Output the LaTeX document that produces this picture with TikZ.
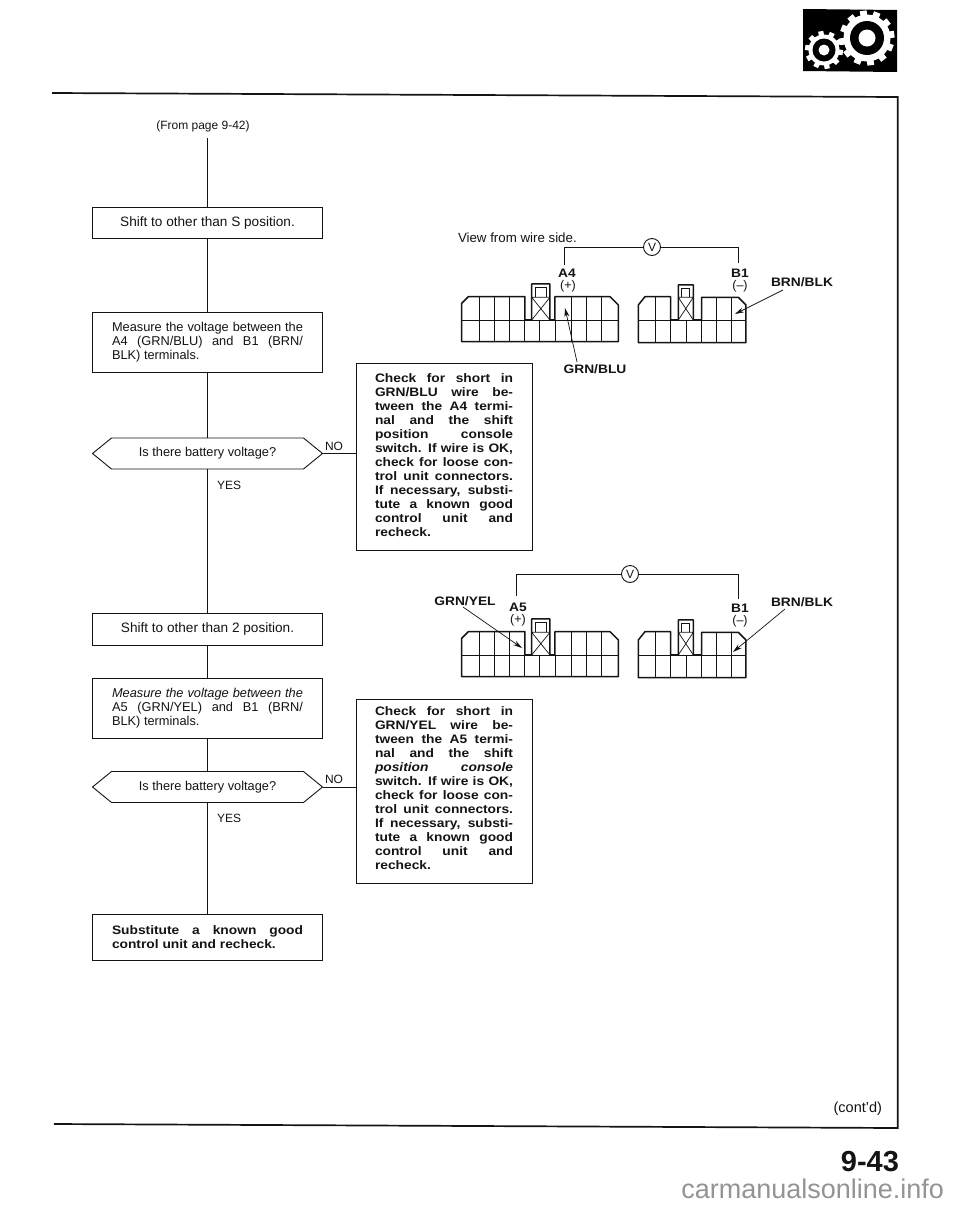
\documentclass[tikz,border=0pt]{standalone}
\usepackage{fontspec}
\setmainfont{Liberation Sans}
\newfontfamily\widefam{Liberation Sans}[FakeStretch=1.12]
\usetikzlibrary{arrows.meta}
\definecolor{ink}{HTML}{141414}
\newcommand{\jl}[1]{\hbox to \hsize{#1}}
\tikzset{
  x=1pt,y=-1pt,
  every node/.style={inner sep=0pt,outer sep=0pt,text=ink},
  plainbox/.style={draw=ink,line width=.9pt,minimum width=230pt,anchor=center},
  thinfont/.style={font=\fontsize{13.6}{14.2}\selectfont},
  boldfont/.style={font=\widefam\bfseries\fontsize{12.3}{14}\selectfont},
  hexbox/.style={minimum width=230pt,minimum height=31pt,font=\fontsize{12.8}{14}\selectfont},
  hexline/.style={draw=ink,line width=.9pt,line join=round},
  checkbox/.style={draw=ink,line width=.9pt,minimum width=176pt},
  flow/.style={draw=ink,line width=.8pt},
  small/.style={font=\fontsize{12}{14}\selectfont},
  lab/.style={font=\widefam\bfseries\fontsize{12.3}{14}\selectfont},
  polar/.style={font=\fontsize{12.5}{12}\selectfont},
  meter/.style={circle,draw=ink,line width=.9pt,minimum size=17pt,font=\fontsize{12}{12}\selectfont},
  pointer/.style={draw=ink,line width=.7pt,-{Stealth[length=9pt,width=5pt]}},
  outline/.style={draw=ink,line width=1.5pt,line join=round},
  cell/.style={draw=ink,line width=.7pt},
  frameline/.style={draw=ink,line width=1.7pt,line join=miter},
}
\newcommand{\leftconn}[1]{%
  \begin{scope}[xshift=440pt,yshift=-#1pt,x=.3333pt,y=-.3333pt]
    \foreach \v in {117,162,208,395,440,484} \draw[cell] (\v,320) -- (\v,390);
    \foreach \v in {117,162,208,253,298,347,395,440,484} \draw[cell] (\v,390) -- (\v,455);
    \draw[cell] (65,390) -- (535,390);
    \draw[cell] (275,322) -- (330,322) (275,322) -- (330,390) (330,322) -- (275,390);
    \draw[cell,line width=1pt] (287,322) -- (287,293) -- (320,293) -- (320,322);
    \draw[outline] (65,455) -- (65,340) -- (85,320) -- (255,320) -- (255,390) -- (275,390) -- (275,282) -- (330,282) -- (330,390) -- (345,390) -- (345,320) -- (510,320) -- (535,345) -- (535,455) -- cycle;
  \end{scope}}
\newcommand{\rightconn}[1]{%
  \begin{scope}[xshift=440pt,yshift=-#1pt,x=.3333pt,y=-.3333pt]
    \foreach \v in {645,830,875} \draw[cell] (\v,320) -- (\v,392);
    \foreach \v in {645,692,738,785,830,875} \draw[cell] (\v,392) -- (\v,458);
    \draw[cell] (595,392) -- (918,392);
    \draw[cell] (715,322) -- (760,322) (715,322) -- (760,390) (760,322) -- (715,390);
    \draw[cell,line width=1pt] (726,322) -- (726,296) -- (750,296) -- (750,322);
    \draw[outline] (595,458) -- (595,345) -- (615,320) -- (692,320) -- (692,390) -- (715,390) -- (715,285) -- (760,285) -- (760,390) -- (785,390) -- (785,322) -- (895,322) -- (918,345) -- (918,458) -- cycle;
  \end{scope}}
\begin{document}
\begin{tikzpicture}
\useasboundingbox (0,0) rectangle (960,1205);
\fill[white] (0,0) rectangle (960,1205);

% gear emblem
\fill[black] (803,9) -- (897,10) -- (897,72) -- (803,71) -- cycle;
\foreach \a in {0,30,...,150} \fill[white,shift={(867,38)},rotate=\a+8] (-3.4,-27.5) rectangle (3.4,27.5);
\fill[white] (867,38) circle (23.5);
\fill[black] (867,38) circle (17);
\fill[white] (867,38) circle (8.5);
\foreach \a in {0,36,...,144} \fill[white,shift={(824,50)},rotate=\a+10] (-2.6,-19) rectangle (2.6,19);
\fill[white] (824,50) circle (15.5);
\fill[black] (824,50) circle (11.5);
\fill[white] (824,50) circle (5.5);

% page frame
\draw[frameline] (52,93) -- (897.7,97) -- (897.7,1128) -- (54,1124);

% flow chart
\node[small] (from) at (203,126) {(From page 9-42)};
\coordinate (fromend) at (207.5,138);
\node[plainbox,minimum height=31pt,thinfont] (b1) at (207.5,222.5) {Shift to other than S position.};
\node[plainbox,minimum height=60pt] (b2) at (207.5,342) {%
  \fontsize{12.8}{14}\selectfont
  \begin{minipage}{191pt}\baselineskip=14pt
  \jl{Measure the voltage between the}\jl{A4 (GRN/BLU) and B1 (BRN/}\hbox{BLK) terminals.}
  \end{minipage}};
\node[hexbox] (h1) at (207.5,453.5) {Is there battery voltage?};
\draw[hexline] (h1.west) -- ([xshift=19pt]h1.north west) -- ([xshift=-19pt]h1.north east) -- (h1.east) -- ([xshift=-19pt]h1.south east) -- ([xshift=19pt]h1.south west) -- cycle;
\node[checkbox,minimum height=187pt] (c1) at (444,456.5) {%
  \widefam\bfseries\fontsize{12.3}{14}\selectfont
  \begin{minipage}{138pt}\baselineskip=14pt
  \jl{Check for short in}\jl{GRN/BLU wire be-}\jl{tween the A4 termi-}\jl{nal and the shift}\jl{position console}\jl{switch. If wire is OK,}\jl{check for loose con-}\jl{trol unit connectors.}\jl{If necessary, substi-}\jl{tute a known good}\jl{control unit and}\hbox{recheck.}\vspace*{3pt}
  \end{minipage}};
\node[small,anchor=west] (no1) at (325,446) {NO};
\node[small,anchor=west] (yes1) at (217,485) {YES};

\node[plainbox,minimum height=32pt,thinfont] (b3) at (207.5,629) {Shift to other than 2 position.};
\node[plainbox,minimum height=60pt] (b4) at (207.5,708) {%
  \fontsize{12.8}{14}\selectfont
  \begin{minipage}{191pt}\baselineskip=14pt
  \jl{\itshape Measure the voltage between the}\jl{A5 (GRN/YEL) and B1 (BRN/}\hbox{BLK) terminals.}
  \end{minipage}};
\node[hexbox] (h2) at (207.5,787) {Is there battery voltage?};
\draw[hexline] (h2.west) -- ([xshift=19pt]h2.north west) -- ([xshift=-19pt]h2.north east) -- (h2.east) -- ([xshift=-19pt]h2.south east) -- ([xshift=19pt]h2.south west) -- cycle;
\node[checkbox,minimum height=184pt] (c2) at (444,791) {%
  \widefam\bfseries\fontsize{12.3}{14}\selectfont
  \begin{minipage}{138pt}\baselineskip=14pt
  \jl{Check for short in}\jl{GRN/YEL wire be-}\jl{tween the A5 termi-}\jl{nal and the shift}\jl{\itshape position console}\jl{switch. If wire is OK,}\jl{check for loose con-}\jl{trol unit connectors.}\jl{If necessary, substi-}\jl{tute a known good}\jl{control unit and}\hbox{recheck.}\vspace*{6pt}
  \end{minipage}};
\node[small,anchor=west] (no2) at (325,779) {NO};
\node[small,anchor=west] (yes2) at (217,818) {YES};
\node[plainbox,minimum height=46pt] (b5) at (207.5,937) {%
  \widefam\bfseries\fontsize{12.3}{14}\selectfont
  \begin{minipage}{191pt}\baselineskip=14pt
  \jl{Substitute a known good}\hbox{control unit and recheck.}
  \end{minipage}};

\draw[flow] (fromend) -- (b1);
\draw[flow] (b1) -- (b2);
\draw[flow] (b2) -- (h1.north);
\draw[flow] (h1.south) -- (b3);
\draw[flow] (b3) -- (b4);
\draw[flow] (b4) -- (h2.north);
\draw[flow] (h2.south) -- (b5);
\draw[flow] (h1.east) -- (h1.east -| c1.west);
\draw[flow] (h2.east) -- (h2.east -| c2.west);

% upper connector view
\leftconn{190}
\rightconn{190}
\node[font=\fontsize{13.3}{14}\selectfont,anchor=west] (view) at (458,238) {View from wire side.};
\node[meter] (v1) at (652,247) {V};
\node[lab] (a4) at (567,273) {A4};
\node[polar] (a4p) at (568,286) {(+)};
\node[lab] (b1a) at (740,273) {B1};
\node[polar] (b1am) at (740,286) {(–)};
\node[lab] (brn1) at (802,282) {BRN/BLK};
\node[lab] (grnblu) at (595,369) {GRN/BLU};
\coordinate (w1l) at (564,265);
\coordinate (w1r) at (738,263);
\draw[flow] (w1l) |- (v1.west);
\draw[flow] (v1.east) -| (w1r);
\coordinate (t1) at (565,308);
\coordinate (t2) at (735,314);
\coordinate (s1) at (577,362);
\coordinate (s2) at (783,290);
\draw[pointer] (s1) -- (t1);
\draw[pointer] (s2) -- (t2);

% lower connector view
\leftconn{525}
\rightconn{525}
\node[meter] (v2) at (630,574) {V};
\node[lab] (a5) at (518,607) {A5};
\node[polar] (a5p) at (518,620) {(+)};
\node[lab] (b1b) at (740,608) {B1};
\node[polar] (b1bm) at (740,621) {(–)};
\node[lab] (brn2) at (802,602) {BRN/BLK};
\node[lab] (grnyel) at (465,601) {GRN/YEL};
\coordinate (w2l) at (516,596);
\coordinate (w2r) at (738,599);
\draw[flow] (w2l) |- (v2.west);
\draw[flow] (v2.east) -| (w2r);
\coordinate (t3) at (522,648);
\coordinate (t4) at (733,652);
\coordinate (s3) at (463,607);
\coordinate (s4) at (785,609);
\draw[pointer] (s3) -- (t3);
\draw[pointer] (s4) -- (t4);

% footer
\node[font=\fontsize{14.5}{14}\selectfont,anchor=east] (cont) at (882,1109) {(cont'd)};
\node[font=\bfseries\fontsize{29}{29}\selectfont,anchor=east] (pg) at (899,1162) {9-43};
\node[font=\fontsize{27}{27}\selectfont,text=black!42,anchor=east] (wm) at (944,1189) {carmanualsonline.info};
\end{tikzpicture}
\end{document}
